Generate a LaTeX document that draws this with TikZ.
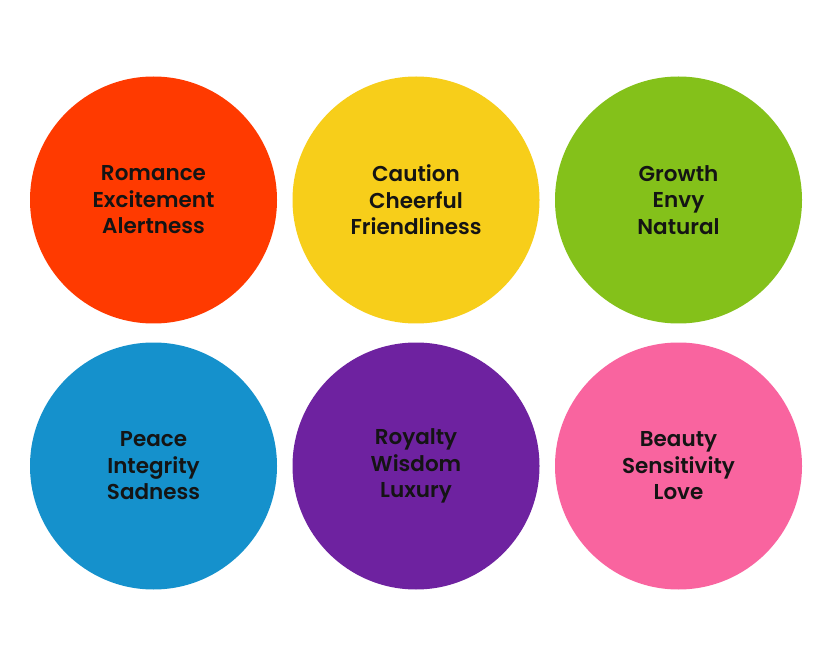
\documentclass[tikz,border=0pt]{standalone}
\usepackage{fontspec}
\setmainfont{Poppins}[UprightFont=* SemiBold, BoldFont=* SemiBold]
\usepackage{xcolor}
\usepackage{tikz}
\definecolor{moodred}{RGB}{255, 58, 0}
\definecolor{moodyellow}{RGB}{247, 206, 26}
\definecolor{moodgreen}{RGB}{132, 193, 26}
\definecolor{moodblue}{RGB}{21, 145, 204}
\definecolor{moodpurple}{RGB}{110, 34, 160}
\definecolor{moodpink}{RGB}{249, 100, 159}
\definecolor{moodtext}{RGB}{20, 20, 20}

\begin{document}
\begin{tikzpicture}[x=1pt,y=-1pt,
    moodball/.style={circle,minimum size=247pt,inner sep=0pt,
        text=moodtext,align=center,
        font=\fontsize{21.5}{26.5}\selectfont}]
                \useasboundingbox[fill=white] (0,0) rectangle (830,668);

                \node[moodball,fill=moodred] (red) at (153.5,200) {Romance\\Excitement\\Alertness};
                \node[moodball,fill=moodyellow] (yellow) at (416,200) {Caution\\Cheerful\\Friendliness};
                \node[moodball,fill=moodgreen] (green) at (678.5,200) {Growth\\Envy\\Natural};

                \node[moodball,fill=moodblue] (blue) at (153.5,466) {Peace\\Integrity\\Sadness};
                \node[moodball,fill=moodpurple] (purple) at (416,466) {Royalty\\Wisdom\\Luxury};
                \node[moodball,fill=moodpink] (pink) at (678.5,466) {Beauty\\Sensitivity\\Love};
            \end{tikzpicture}
\end{document}
